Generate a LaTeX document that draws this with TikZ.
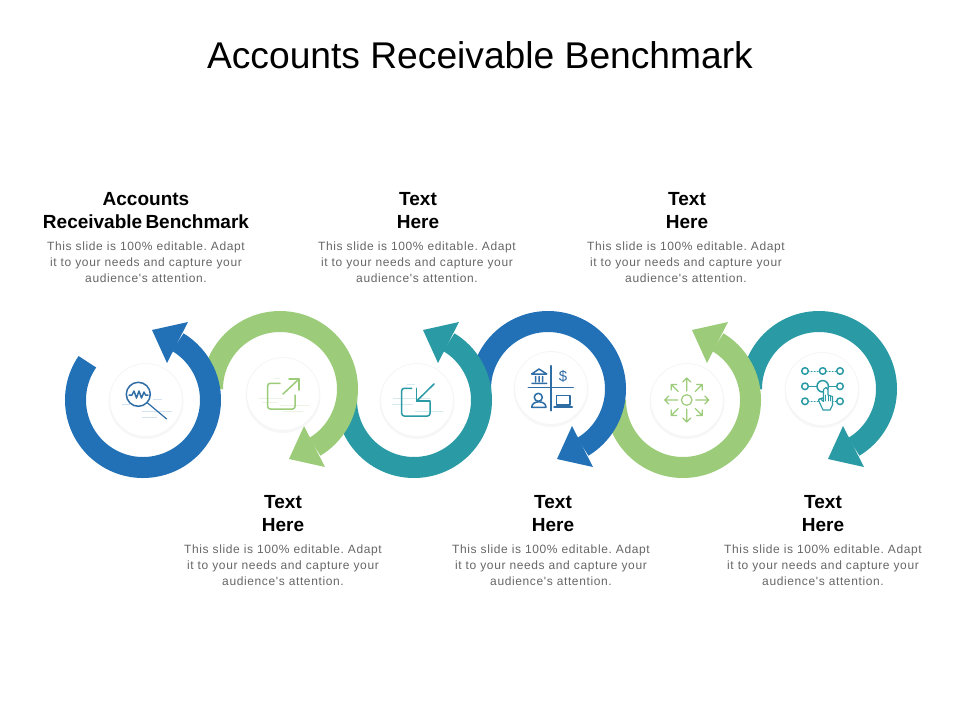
\documentclass[tikz,border=0pt]{standalone}
\usepackage{fontspec}
\setmainfont{Liberation Sans}
\newfontfamily\bodyfont[LetterSpace=5.2]{Liberation Sans}
\definecolor{ringblue}{HTML}{2271B7}
\definecolor{ringgreen}{HTML}{9CCC79}
\definecolor{ringteal}{HTML}{2A9AA5}
\definecolor{iconblue}{HTML}{2F6DA5}
\definecolor{fainttext}{HTML}{666666}
\tikzset{
  titletext/.style={font=\fontsize{37.2}{40}\selectfont,text=black,inner sep=0pt},
  headtext/.style={font=\bfseries\fontsize{19}{23}\selectfont,align=center,text=black,inner sep=0pt},
  bodytext/.style={font=\bodyfont\frenchspacing\fontsize{12}{16}\selectfont,align=center,text=fainttext,inner sep=0pt},
  disc/.style={circle,fill=white,draw=black!4,line width=0.8pt,minimum size=73pt,inner sep=0pt},
  icon/.style={line width=1.5pt,line cap=round,line join=round,fill=none},
  faint/.style={line width=0.8pt,opacity=0.2},
}
% centre x, centre y, flip, start angle, colour
\newcommand{\ringarrow}[5]{
  \begin{scope}[shift={(#1,#2)},yscale=#3]
    \draw[#5,line width=21pt] (#4:67.5) arc[start angle=#4,end angle=419,radius=67.5];
    \fill[#5] (45,78) -- (9,70) -- (24,37) -- cycle;
  \end{scope}
}
\newcommand{\softdisc}[3]{
  \fill[black!3] (#2,#3+1.5) circle[radius=37.5];
  \node[disc] (#1) at (#2,#3) {};
}
\begin{document}
\begin{tikzpicture}[x=1pt,y=1pt,yscale=-1]
  \useasboundingbox (0,0) rectangle (960,720);
  \node[titletext] (title) at (480,55) {Accounts Receivable Benchmark};
  % upper texts
  \node[headtext] (head1) at (146,210.5) {Accounts\\Receivable\hspace{-2pt} Benchmark};
  \node[bodytext] (body1) at (146,262) {This slide is 100\% editable. Adapt\\it to your needs and capture your\\audience's attention.};
  \node[headtext] (head3) at (418,210.5) {Text\\Here};
  \node[bodytext] (body3) at (417,262) {This slide is 100\% editable. Adapt\\it to your needs and capture your\\audience's attention.};
  \node[headtext] (head5) at (687,210.5) {Text\\Here};
  \node[bodytext] (body5) at (686,262) {This slide is 100\% editable. Adapt\\it to your needs and capture your\\audience's attention.};
  % lower texts
  \node[headtext] (head2) at (283,513.5) {Text\\Here};
  \node[bodytext] (body2) at (283,565) {This slide is 100\% editable. Adapt\\it to your needs and capture your\\audience's attention.};
  \node[headtext] (head4) at (553,513.5) {Text\\Here};
  \node[bodytext] (body4) at (551,565) {This slide is 100\% editable. Adapt\\it to your needs and capture your\\audience's attention.};
  \node[headtext] (head6) at (823,513.5) {Text\\Here};
  \node[bodytext] (body6) at (823,565) {This slide is 100\% editable. Adapt\\it to your needs and capture your\\audience's attention.};
  % rings, last one first
  \ringarrow{819}{389}{1}{180}{ringteal}
  \ringarrow{683}{400}{-1}{180}{ringgreen}
  \ringarrow{548}{389}{1}{180}{ringblue}
  \ringarrow{414}{400}{-1}{180}{ringteal}
  \ringarrow{280}{389}{1}{180}{ringgreen}
  \ringarrow{143}{400}{-1}{145.5}{ringblue}
  % discs
  \softdisc{disc1}{146}{400}
  \softdisc{disc2}{283}{394}
  \softdisc{disc3}{417}{400}
  \softdisc{disc4}{551}{388}
  \softdisc{disc5}{687}{400}
  \softdisc{disc6}{822}{389}
  % magnifier
  \draw[faint,ringblue] (122,404) -- (130,404) (142,411) -- (172,411) (142,417) -- (157,417) (153,399) -- (162,399);
  \draw[icon,iconblue] (138.3,394.3) circle[radius=12];
  \draw[icon,iconblue,line width=1.2pt] (147,402.5) -- (166.7,419);
  \draw[icon,iconblue] (129,395) -- (132,395) -- (134,391) -- (136.5,398) -- (139,391) -- (141.5,398) -- (144,392) -- (145.5,395) -- (148,395);
  % arrow out of box
  \draw[faint,ringgreen] (274,378) -- (280,378) (258,398) -- (283,398) (262,402) -- (277,402) (280,405) -- (309,405) (283,411) -- (303,411);
  \draw[icon,ringgreen,rounded corners=2.5pt] (280,383.3) -- (267.7,383.3) -- (267.7,409) -- (295,409) -- (295,395);
  \draw[icon,ringgreen] (283,394) -- (299,379);
  \draw[icon,ringgreen] (289,379) -- (299,379) -- (299,390);
  % arrow into box
  \draw[faint,ringteal] (407,384) -- (415,384) (393,398) -- (430,398) (392,404) -- (413,404) (415,411) -- (443,411);
  \draw[icon,ringteal,rounded corners=2.5pt] (411.7,388.3) -- (401.7,388.3) -- (401.7,416) -- (430,416) -- (430,401.7);
  \draw[icon,ringteal] (434,384) -- (416.7,401);
  \draw[icon,ringteal] (416.7,388.3) -- (416.7,401) -- (430,401);
  % bank, dollar, person, laptop
  \draw[icon,iconblue] (551,365.7) -- (551,410.7) (528.3,387.7) -- (573.3,387.7);
  \draw[icon,iconblue] (531.7,374) -- (539,369) -- (546.7,374) -- cycle (535.5,376.5) -- (535.5,381.5) (539,376.5) -- (539,381.5) (542.5,376.5) -- (542.5,381.5) (532,383.3) -- (546.7,383.3);
  \node[inner sep=0pt,text=iconblue,font=\fontsize{15}{15}\selectfont] (dollar) at (563,376) {\$};
  \draw[icon,iconblue] (538.3,397.3) circle[radius=4];
  \draw[icon,iconblue] (531.7,407.3) .. controls (531.7,400) and (546,400) .. (546,407.3) -- cycle;
  \draw[icon,iconblue] (556.7,395.7) rectangle (570,405) (554,407) -- (572.3,407);
  % arrows going outward
  \draw[icon,ringgreen,line width=1.2pt] (686.7,400) circle[radius=5.3];
  \foreach \ang/\first in {0/9,45/12,90/9,135/12,180/9,225/12,270/9,315/12} {
    \draw[icon,ringgreen,line width=1.2pt,shift={(686.7,400)},rotate=\ang] (\first,0) -- (22,0) (18,-4) -- (22,0) -- (18,4);
  }
  % grid with hand
  \foreach \ypos in {371,401.3} {
    \draw[icon,ringteal,line width=1pt,dotted] (805,\ypos) -- (840,\ypos);
    \foreach \xpos in {805,822.7,840} {
      \draw[icon,ringteal,fill=white] (\xpos,\ypos) circle[radius=3.3];
    }
  }
  \draw[icon,ringteal] (805,386.3) -- (840,386.3);
  \foreach \xpos in {805,840} {
    \draw[icon,ringteal,fill=white] (\xpos,386.3) circle[radius=3.3];
  }
  \draw[icon,ringteal,fill=white] (822.7,386.3) circle[radius=5.7];
  \draw[icon,ringteal,fill=white,line width=1.1pt] (823,410) -- (818.5,400) -- (820,398.5) -- (823.5,401.5) -- (823.5,389.5) -- (826,387.5) -- (828,389.5) -- (828,395) -- (832.5,396.5) -- (832.5,405) -- (830,410) -- cycle;
  \draw[icon,ringteal,line width=0.9pt] (828,395) -- (828,401) (830.3,396) -- (830.3,401) (825.8,395) -- (825.8,401);
\end{tikzpicture}
\end{document}
